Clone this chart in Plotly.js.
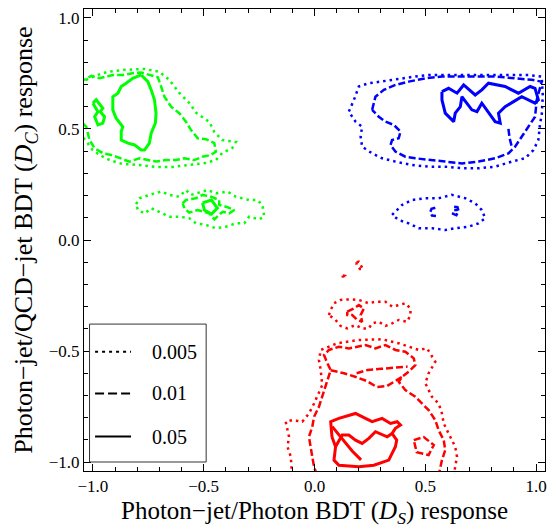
<!DOCTYPE html>
<html>
<head>
<meta charset="utf-8">
<script src="https://cdn.plot.ly/plotly-3.0.1.min.js"></script>
<style>html,body{margin:0;padding:0;background:#fff;}#plot{width:550px;height:528px;}</style>
</head>
<body>
<div id="plot"></div>
<script>
// ---- contour data, levels 0.005 (dotted), 0.01 (dashed), 0.05 (solid)
// Green group (upper left)
var gSolidX = [-0.782,-0.752,-0.737,-0.722,-0.715,-0.718,-0.737,-0.745,-0.767,-0.782,-0.812,-0.842,-0.872,-0.872,-0.865,-0.895,-0.910,-0.910,-0.887,-0.872,-0.850,-0.820];
var gSolidY = [0.743,0.713,0.676,0.631,0.571,0.526,0.481,0.436,0.405,0.405,0.428,0.436,0.450,0.488,0.510,0.548,0.586,0.645,0.661,0.691,0.706,0.728];
var gSolid2X = [-1.000,-0.985,-0.955,-0.967,-0.947,-0.955,-0.977,-0.992,-0.977];
var gSolid2Y = [0.616,0.631,0.593,0.578,0.555,0.526,0.518,0.555,0.578];
var gDashX = [-1.060,-1.037,-1.007,-0.970,-0.910,-0.865,-0.820,-0.782,-0.745,-0.707,-0.692,-0.677,-0.647,-0.610,-0.580,-0.557,-0.527,-0.490,-0.452,-0.445,-0.467,-0.505,-0.542,-0.587,-0.625,-0.670,-0.715,-0.752,-0.790,-0.835,-0.880,-0.917,-0.955,-0.992,-1.015,-1.030,-1.060];
var gDashY = [0.710,0.721,0.739,0.728,0.743,0.743,0.751,0.754,0.743,0.733,0.691,0.645,0.600,0.571,0.533,0.495,0.458,0.454,0.436,0.398,0.383,0.375,0.360,0.368,0.360,0.360,0.353,0.360,0.368,0.353,0.368,0.383,0.391,0.413,0.450,0.510,0.540];
var gDotX = [-1.060,-1.030,-0.992,-0.934,-0.857,-0.767,-0.700,-0.655,-0.610,-0.565,-0.533,-0.475,-0.452,-0.416,-0.355,-0.371,-0.416,-0.445,-0.490,-0.565,-0.641,-0.715,-0.790,-0.866,-0.925,-0.970,-1.001,-1.024,-1.060];
var gDotY = [0.730,0.721,0.739,0.757,0.766,0.770,0.757,0.721,0.662,0.617,0.572,0.532,0.486,0.450,0.441,0.414,0.392,0.360,0.347,0.338,0.329,0.329,0.338,0.342,0.360,0.383,0.405,0.437,0.480];
var gSmallDotX = [-0.805,-0.790,-0.745,-0.692,-0.655,-0.610,-0.580,-0.557,-0.482,-0.445,-0.392,-0.355,-0.295,-0.257,-0.235,-0.227,-0.250,-0.295,-0.317,-0.355,-0.400,-0.445,-0.490,-0.535,-0.565,-0.610,-0.655,-0.700,-0.737,-0.767,-0.797];
var gSmallDotY = [0.162,0.188,0.203,0.218,0.203,0.195,0.225,0.203,0.225,0.210,0.218,0.195,0.180,0.180,0.158,0.105,0.093,0.105,0.075,0.075,0.060,0.053,0.068,0.075,0.098,0.105,0.105,0.127,0.143,0.120,0.135];
var gSmallDashX = [-0.595,-0.580,-0.535,-0.505,-0.467,-0.430,-0.430,-0.400,-0.362,-0.385,-0.415,-0.437,-0.452,-0.475,-0.505,-0.527,-0.565,-0.587];
var gSmallDashY = [0.165,0.180,0.188,0.203,0.195,0.180,0.158,0.150,0.135,0.120,0.127,0.105,0.093,0.120,0.127,0.135,0.123,0.143];
var gSmallSolidX = [-0.505,-0.465,-0.438,-0.465,-0.497];
var gSmallSolidY = [0.167,0.180,0.144,0.117,0.135];

// Blue group (upper right)
var bDotX = [0.155,0.178,0.200,0.245,0.298,0.350,0.410,0.455,0.515,0.590,0.665,0.740,0.815,0.890,0.965,1.025,1.030,1.025,1.018,1.010,0.988,0.950,0.890,0.815,0.740,0.665,0.590,0.515,0.440,0.365,0.305,0.260,0.215,0.208,0.215,0.185,0.163];
var bDotY = [0.578,0.631,0.691,0.706,0.713,0.721,0.728,0.736,0.743,0.743,0.743,0.743,0.743,0.743,0.743,0.736,0.650,0.560,0.526,0.450,0.405,0.368,0.353,0.330,0.323,0.323,0.330,0.330,0.338,0.353,0.368,0.390,0.420,0.465,0.510,0.533,0.563];
var bDashX = [0.260,0.275,0.313,0.365,0.425,0.500,0.575,0.665,0.740,0.815,0.905,0.980,1.025,1.003,0.995,0.965,0.935,0.905,0.875,0.815,0.740,0.665,0.590,0.515,0.455,0.410,0.365,0.343,0.350,0.380,0.388,0.358,0.320,0.290,0.268];
var bDashY = [0.586,0.645,0.676,0.698,0.713,0.728,0.736,0.736,0.736,0.736,0.728,0.721,0.713,0.631,0.555,0.510,0.465,0.420,0.390,0.368,0.353,0.345,0.353,0.360,0.368,0.375,0.398,0.428,0.450,0.458,0.488,0.518,0.533,0.555,0.578];
var bDash2X = [0.875,0.880,0.890];
var bDash2Y = [0.500,0.460,0.420];
var bSolidX = [0.575,0.605,0.643,0.673,0.725,0.755,0.785,0.860,0.920,0.973,0.995,1.010,0.995,0.935,0.898,0.860,0.830,0.838,0.815,0.755,0.733,0.710,0.665,0.658,0.635,0.628,0.590,0.575];
var bSolidY = [0.668,0.683,0.661,0.698,0.653,0.676,0.706,0.691,0.661,0.691,0.683,0.631,0.616,0.645,0.623,0.600,0.571,0.526,0.533,0.616,0.578,0.586,0.645,0.600,0.571,0.533,0.571,0.631];
var bSmallDotX = [0.350,0.395,0.440,0.500,0.560,0.620,0.680,0.725,0.755,0.770,0.740,0.695,0.635,0.590,0.530,0.470,0.425,0.380];
var bSmallDotY = [0.113,0.158,0.180,0.188,0.188,0.203,0.188,0.165,0.135,0.098,0.075,0.060,0.053,0.045,0.053,0.053,0.075,0.090];
var bSmallDashAX = [0.545,0.528,0.522,0.530,0.548];
var bSmallDashAY = [0.145,0.140,0.125,0.110,0.108];
var bSmallDashBX = [0.630,0.645,0.650,0.640,0.625,0.628,0.645];
var bSmallDashBY = [0.150,0.148,0.130,0.112,0.118,0.135,0.135];

// Red group (bottom)
var rTinyAX = [0.190,0.200,0.215,0.220,0.205,0.190];
var rTinyAY = [-0.100,-0.098,-0.125,-0.130,-0.130,-0.110];
var rTinyBX = [0.128,0.138,0.135,0.127];
var rTinyBY = [-0.160,-0.162,-0.172,-0.170];
var rRingDotX = [0.065,0.073,0.088,0.118,0.163,0.200,0.245,0.275,0.320,0.350,0.380,0.410,0.433,0.433,0.418,0.380,0.350,0.320,0.290,0.260,0.245,0.215,0.185,0.148,0.118,0.095];
var rRingDotY = [-0.338,-0.315,-0.285,-0.270,-0.267,-0.270,-0.285,-0.278,-0.278,-0.300,-0.293,-0.285,-0.308,-0.338,-0.368,-0.360,-0.375,-0.387,-0.368,-0.375,-0.398,-0.398,-0.383,-0.398,-0.387,-0.360];
var rBlobDashX = [0.148,0.178,0.200,0.223,0.208,0.215,0.193,0.170,0.148];
var rBlobDashY = [-0.323,-0.308,-0.293,-0.308,-0.338,-0.368,-0.360,-0.338,-0.338];
var rDotX = [-0.101,-0.107,-0.122,-0.115,-0.130,-0.100,-0.055,-0.025,-0.002,0.020,0.035,0.028,0.020,0.028,0.103,0.200,0.305,0.380,0.470,0.508,0.545,0.515,0.500,0.530,0.560,0.575,0.583,0.605,0.635,0.643,0.635,0.628];
var rDotY = [-1.059,-0.976,-0.931,-0.886,-0.818,-0.811,-0.818,-0.781,-0.736,-0.691,-0.653,-0.586,-0.541,-0.495,-0.465,-0.450,-0.447,-0.465,-0.495,-0.488,-0.548,-0.600,-0.645,-0.706,-0.736,-0.781,-0.826,-0.871,-0.931,-0.976,-1.021,-1.059];
var rDashX = [0.011,-0.002,-0.010,-0.017,-0.025,-0.010,-0.002,0.020,0.035,0.050,0.073,0.058,0.043,0.065,0.110,0.155,0.200,0.230,0.275,0.320,0.365,0.410,0.448,0.455,0.425,0.395,0.380,0.410,0.455,0.485,0.515,0.545,0.560,0.583,0.590,0.575,0.560];
var rDashY = [-1.059,-1.021,-0.976,-0.931,-0.886,-0.841,-0.796,-0.751,-0.706,-0.661,-0.586,-0.555,-0.518,-0.495,-0.481,-0.488,-0.481,-0.473,-0.488,-0.473,-0.495,-0.503,-0.533,-0.563,-0.593,-0.616,-0.638,-0.676,-0.706,-0.736,-0.766,-0.811,-0.856,-0.901,-0.946,-0.991,-1.059];
var rBridgeAX = [0.073,0.133,0.187,0.236,0.281,0.326,0.371,0.395];
var rBridgeAY = [-0.586,-0.600,-0.617,-0.635,-0.662,-0.658,-0.631,-0.616];
var rBridgeBX = [0.190,0.240,0.300,0.360,0.420];
var rBridgeBY = [-0.600,-0.585,-0.580,-0.575,-0.570];
var rSmallDashX = [0.448,0.493,0.538,0.515,0.461];
var rSmallDashY = [-0.901,-0.887,-0.923,-0.968,-0.955];
var rSolidX = [0.079,0.073,0.110,0.146,0.185,0.230,0.260,0.305,0.343,0.373,0.388,0.365,0.350,0.371,0.365,0.350,0.335,0.268,0.200,0.110,0.088,0.095];
var rSolidY = [-0.887,-0.818,-0.803,-0.793,-0.781,-0.803,-0.818,-0.803,-0.826,-0.818,-0.833,-0.848,-0.871,-0.901,-0.931,-0.961,-0.991,-1.014,-1.021,-1.014,-0.991,-0.931];
var rSolidZigX = [0.095,0.125,0.155,0.185,0.215,0.245,0.275,0.305,0.328,0.350];
var rSolidZigY = [-0.931,-0.878,-0.878,-0.901,-0.916,-0.893,-0.863,-0.878,-0.886,-0.871];
var rSolidDiagX = [0.080,0.130,0.170,0.210];
var rSolidDiagY = [-0.840,-0.900,-0.950,-0.990];

// Legend
var levelLabels = ['0.005', '0.01', '0.05'];
var levelDash = ['2.5px,4px', '7px,3px', 'solid'];
var legendDash = ['3px,4px', '9px,4px', 'solid'];

// Axis ticks
var tickVals = [-1.0, -0.5, 0.0, 0.5, 1.0];
var tickText = ['\u22121.0', '\u22120.5', '0.0', '0.5', '1.0'];

var GREEN = '#00ff00', BLUE = '#0000ff', RED = '#ff0000';

function closeArr(a) { return a.concat([a[0]]); }
function tr(x, y, color, level, closed) {
  return {
    type: 'scatter', mode: 'lines',
    x: closed ? closeArr(x) : x,
    y: closed ? closeArr(y) : y,
    line: {color: color, width: level === 2 ? 3 : 2.5, dash: levelDash[level], shape: 'linear'},
    hoverinfo: 'skip', showlegend: false
  };
}

var data = [
  tr(gDotX, gDotY, GREEN, 0, false),
  tr(gDashX, gDashY, GREEN, 1, false),
  tr(gSolidX, gSolidY, GREEN, 2, true),
  tr(gSolid2X, gSolid2Y, GREEN, 2, true),
  tr(gSmallDotX, gSmallDotY, GREEN, 0, true),
  tr(gSmallDashX, gSmallDashY, GREEN, 1, true),
  tr(gSmallSolidX, gSmallSolidY, GREEN, 2, true),
  tr(bDotX, bDotY, BLUE, 0, true),
  tr(bDashX, bDashY, BLUE, 1, true),
  tr(bDash2X, bDash2Y, BLUE, 1, false),
  tr(bSolidX, bSolidY, BLUE, 2, true),
  tr(bSmallDotX, bSmallDotY, BLUE, 0, true),
  tr(bSmallDashAX, bSmallDashAY, BLUE, 1, false),
  tr(bSmallDashBX, bSmallDashBY, BLUE, 1, false),
  tr(rTinyAX, rTinyAY, RED, 0, true),
  tr(rTinyBX, rTinyBY, RED, 0, true),
  tr(rRingDotX, rRingDotY, RED, 0, true),
  tr(rBlobDashX, rBlobDashY, RED, 1, true),
  tr(rDotX, rDotY, RED, 0, false),
  tr(rDashX, rDashY, RED, 1, false),
  tr(rBridgeAX, rBridgeAY, RED, 1, false),
  tr(rBridgeBX, rBridgeBY, RED, 1, false),
  tr(rSmallDashX, rSmallDashY, RED, 1, true),
  tr(rSolidX, rSolidY, RED, 2, true),
  tr(rSolidZigX, rSolidZigY, RED, 2, false),
  tr(rSolidDiagX, rSolidDiagY, RED, 2, false)
];

var FONT = 'Liberation Serif, Times New Roman, serif';

// Manual legend box (paper coordinates of the plot area)
var shapes = [{
  type: 'rect', xref: 'paper', yref: 'paper',
  x0: 0.012, x1: 0.265, y0: 0.0195, y1: 0.318,
  line: {color: '#333', width: 1}, fillcolor: 'white', layer: 'above'
}];
var annotations = [];
var rowY = [0.258, 0.168, 0.0745];
for (var i = 0; i < levelLabels.length; i++) {
  shapes.push({
    type: 'line', xref: 'paper', yref: 'paper',
    x0: 0.024, x1: 0.102, y0: rowY[i], y1: rowY[i],
    line: {color: 'black', width: 2, dash: legendDash[i]}, layer: 'above'
  });
  annotations.push({
    xref: 'paper', yref: 'paper', x: 0.143, y: rowY[i],
    xanchor: 'left', yanchor: 'middle', showarrow: false,
    text: levelLabels[i], font: {family: FONT, size: 20, color: 'black'}
  });
}

var axisCommon = {
  range: [-1.04, 1.04],
  tickmode: 'array', tickvals: tickVals, ticktext: tickText,
  ticks: 'inside', ticklen: 7, tickwidth: 1, tickcolor: 'black',
  showline: true, linecolor: 'black', linewidth: 1, mirror: 'allticks',
  showgrid: false, zeroline: false,
  tickfont: {family: FONT, size: 17, color: 'black'},
  minor: {dtick: 0.1, tick0: 0, ticks: 'inside', ticklen: 4, tickwidth: 1, tickcolor: 'black', showgrid: false},
  fixedrange: true
};

var layout = {
  width: 550, height: 528,
  margin: {l: 84, r: 5, t: 9, b: 57},
  paper_bgcolor: 'white', plot_bgcolor: 'white',
  showlegend: false,
  font: {family: FONT, color: 'black'},
  xaxis: Object.assign({}, axisCommon, {
    title: {text: 'Photon\u2212jet/Photon BDT (<i>D</i><sub><i>S</i></sub>) response', font: {family: FONT, size: 25, color: 'black'}, standoff: 6}
  }),
  yaxis: Object.assign({}, axisCommon, {
    title: {text: 'Photon\u2212jet/QCD\u2212jet BDT (<i>D</i><sub><i>C</i></sub>) response', font: {family: FONT, size: 26, color: 'black'}, standoff: 8}
  }),
  shapes: shapes,
  annotations: annotations
};

Plotly.newPlot('plot', data, layout, {displayModeBar: false, staticPlot: true});
</script>
</body>
</html>
